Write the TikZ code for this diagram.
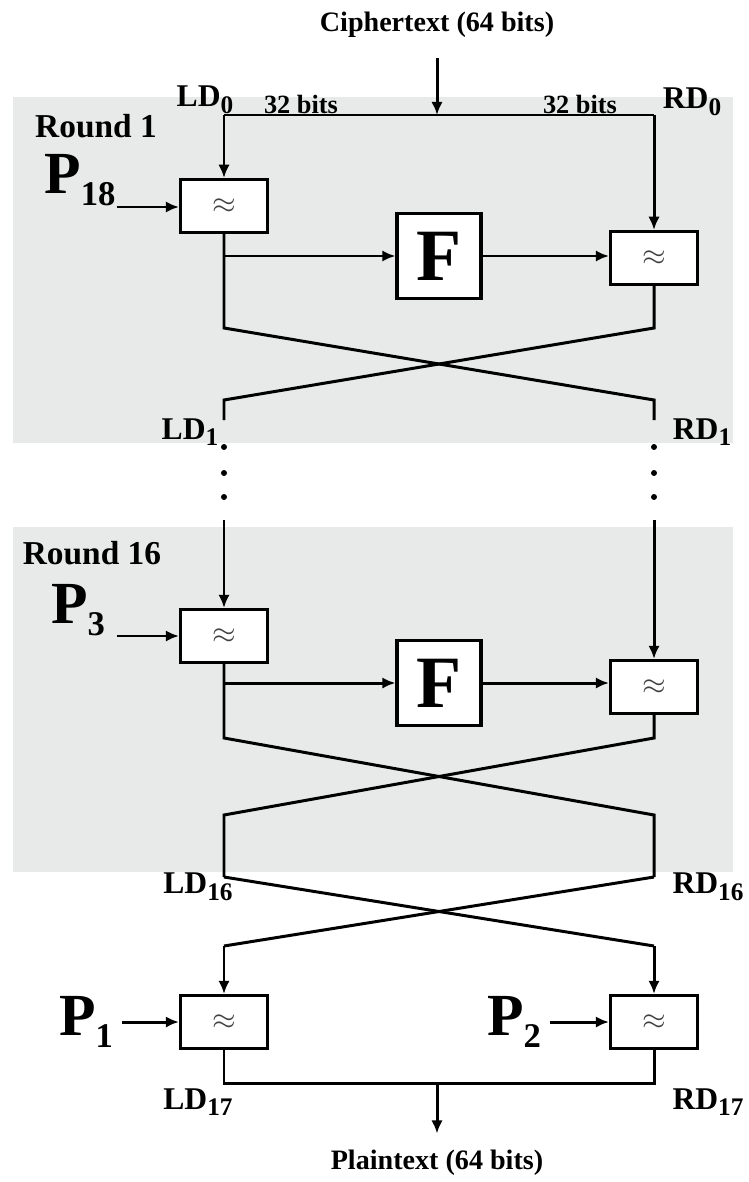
\documentclass[tikz,border=0pt]{standalone}
\usepackage{fontspec}
\setmainfont{Liberation Serif}
\usetikzlibrary{positioning,calc,arrows.meta}

\definecolor{roundgray}{RGB}{232,233,233}
% lowered subscripts for wire labels and subkeys
\newcommand{\sbs}[1]{\raisebox{-0.45ex}{\scalebox{0.8}{#1}}}
\newcommand{\ksub}[1]{\raisebox{-0.45ex}{\scalebox{0.58}{#1}}}

\begin{document}
\begin{tikzpicture}[
    x=0.02cm, y=-0.02cm,
    xorbox/.style={rectangle, draw, fill=white, line width=1.8pt, minimum width=1.74cm, minimum height=1.06cm, inner sep=0pt, font=\fontsize{18}{18}\selectfont, text=black!75},
    fbox/.style={rectangle, draw, fill=white, line width=1.8pt, minimum width=1.68cm, minimum height=1.7cm, inner sep=0pt, font=\bfseries\fontsize{42}{42}\selectfont},
    wire/.style={line width=1.7pt},
    arrow/.style={-{Latex[length=7.5pt,width=6.5pt]}, line width=1.7pt},
    title/.style={font=\bfseries\fontsize{16}{16}\selectfont},
    lbl/.style={font=\bfseries\fontsize{18}{18}\selectfont},
    bits/.style={font=\bfseries\fontsize{15}{15}\selectfont},
    key/.style={font=\bfseries\fontsize{34}{34}\selectfont}
]
\useasboundingbox (0,0) rectangle (749,1182);

% shaded rounds
\fill[roundgray] (13,97) rectangle (733,443);
\fill[roundgray] (13,527) rectangle (733,872);

% ---- round 1 ----
\node[title] (ct) at (437,25) {Ciphertext (64 bits)};
\coordinate (split1) at (437,115);
\coordinate (tl1) at (224,115);
\coordinate (tr1) at (654,115);
\node[lbl] (ld0) at (205,100) {LD\sbs{0}};
\node[lbl] (rd0) at (692,102) {RD\sbs{0}};
\node[bits] (bl) at (301,104) {32 bits};
\node[bits] (br) at (580,104) {32 bits};
\node[lbl, font=\bfseries\fontsize{19}{19}\selectfont] (r1) at (96,126) {Round 1};

\node[xorbox] (xl1) at (224,206) {$\approx$};
\node[fbox] (f1) at (439,256) {F};
\node[xorbox] (xr1) at (654,258) {$\approx$};
\node[key] (p18) at (80,180) {P\ksub{18}};
\coordinate (p18in) at (117,207);

\draw[arrow, shorten <=8pt] (ct) -- (split1);
\draw[wire] (tl1) -- (tr1);
\draw[arrow] (tl1) -- (xl1);
\draw[arrow] (tr1) -- (xr1);
\draw[arrow] (p18in) -- (xl1.west |- p18in);
\draw[arrow] (xl1.south |- f1.west) -- (f1.west);
\draw[arrow] (f1.east) -- (xr1.west |- f1.east);

\coordinate (a1) at (224,328);
\coordinate (b1) at (654,328);
\coordinate (a2) at (224,400);
\coordinate (b2) at (654,400);
\coordinate (ld1end) at (224,420);
\coordinate (rd1end) at (654,420);
\draw[wire] (xl1.south) -- (a1) -- (b2) -- (rd1end);
\draw[wire] (xr1.south) -- (b1) -- (a2) -- (ld1end);
\node[lbl] (ld1) at (190,432) {LD\sbs{1}};
\node[lbl] (rd1) at (702,432) {RD\sbs{1}};

% skipped rounds
\foreach \y in {447,473,497}{
    \fill (224,\y) circle (1.7pt);
    \fill (654,\y) circle (1.7pt);
}

% ---- round 16 ----
\node[lbl, font=\bfseries\fontsize{19}{19}\selectfont] (r16) at (92,553) {Round 16};
\coordinate (in16l) at (224,520);
\coordinate (in16r) at (654,520);
\node[xorbox] (xl16) at (224,636) {$\approx$};
\node[fbox] (f16) at (439,683) {F};
\node[xorbox] (xr16) at (654,687) {$\approx$};
\node[key] (p3) at (78,610) {P\ksub{3}};
\coordinate (p3in) at (117,636);

\draw[arrow] (in16l) -- (xl16);
\draw[arrow] (in16r) -- (xr16);
\draw[arrow] (p3in) -- (xl16);
\draw[arrow] (xl16.south |- f16.west) -- (f16.west);
\draw[arrow] (f16.east) -- (xr16.west |- f16.east);

\coordinate (c1) at (224,738);
\coordinate (d1) at (654,738);
\coordinate (c2) at (224,815);
\coordinate (d2) at (654,815);
\coordinate (ld16) at (224,877);
\coordinate (rd16) at (654,877);
\draw[wire] (xl16.south) -- (c1) -- (d2) -- (rd16);
\draw[wire] (xr16.south) -- (d1) -- (c2) -- (ld16);
\node[lbl] (ld16lbl) at (198,887) {LD\sbs{16}};
\node[lbl] (rd16lbl) at (708,887) {RD\sbs{16}};

% ---- undo last swap, output whitening ----
\coordinate (e2) at (224,946);
\coordinate (g2) at (654,946);
\node[xorbox] (xl17) at (224,1022) {$\approx$};
\node[xorbox] (xr17) at (654,1022) {$\approx$};
\node[key] (p1) at (86,1022) {P\ksub{1}};
\node[key] (p2) at (514,1022) {P\ksub{2}};
\coordinate (p1in) at (122,1022);
\coordinate (p2in) at (550,1022);

\draw[wire] (ld16) -- (g2);
\draw[wire] (rd16) -- (e2);
\draw[arrow] (e2) -- (xl17);
\draw[arrow] (g2) -- (xr17);
\draw[arrow] (p1in) -- (xl17);
\draw[arrow] (p2in) -- (xr17);

\coordinate (ol) at (224,1083);
\coordinate (or) at (654,1083);
\coordinate (join) at (437,1083);
\draw[wire] (xl17.south) -- (ol) -- (or) -- (xr17.south);
\node[title] (pt) at (437,1163) {Plaintext (64 bits)};
\draw[arrow, shorten >=6pt] (join) -- (pt);
\node[lbl] (ld17) at (198,1102) {LD\sbs{17}};
\node[lbl] (rd17) at (708,1102) {RD\sbs{17}};

\end{tikzpicture}
\end{document}
